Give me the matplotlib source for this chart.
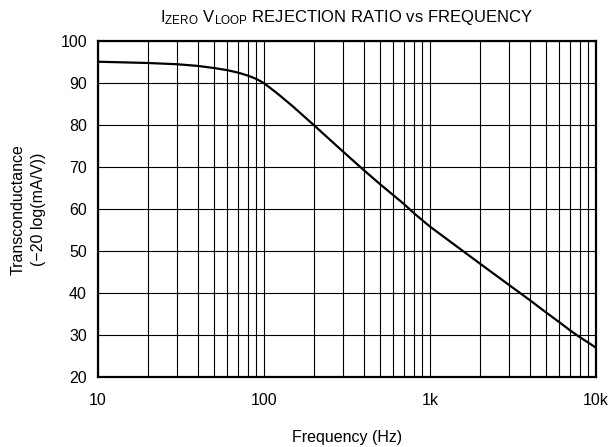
import numpy as np
import matplotlib.pyplot as plt
from matplotlib.ticker import FixedLocator, LogLocator, NullFormatter

plt.rcParams['font.family'] = ['Liberation Sans', 'DejaVu Sans']
plt.rcParams['mathtext.fontset'] = 'custom'
plt.rcParams['mathtext.rm'] = 'Liberation Sans'

# curve
freq = [10, 20, 30, 40, 50, 60, 70, 80, 90, 100, 120, 150, 200, 300, 400,
        500, 600, 700, 800, 900, 1000, 2000, 3000, 4000, 5000, 6000, 7000,
        8000, 9000, 10000]
gain = [95.1, 94.8, 94.5, 94.1, 93.6, 93.1, 92.5, 91.8, 91.0, 90.0, 87.6,
        84.4, 80.0, 73.7, 69.3, 66.0, 63.4, 61.2, 59.1, 57.4, 55.9, 47.1,
        42.0, 38.4, 35.5, 33.2, 31.2, 29.6, 28.3, 27.1]

x_ticks = [10, 100, 1000, 10000]
x_labels = ['10', '100', '1k', '10k']
y_ticks = np.arange(20, 101, 10)

fig = plt.figure(figsize=(6.13, 4.47), dpi=100)
ax = fig.add_axes([0.16, 0.1555, 0.812, 0.7525])

ax.semilogx(freq, gain, color='black', linewidth=1.6, zorder=3)

ax.set_xlim(10, 10000)
ax.set_ylim(20, 100)
ax.xaxis.set_major_locator(FixedLocator(x_ticks))
ax.set_xticklabels(x_labels)
ax.xaxis.set_minor_locator(LogLocator(base=10, subs=np.arange(2, 10)))
ax.xaxis.set_minor_formatter(NullFormatter())
ax.set_yticks(y_ticks)

ax.grid(which='major', color='black', linewidth=0.8)
ax.grid(which='minor', axis='x', color='black', linewidth=0.8)
ax.tick_params(which='both', length=0, labelsize=11.5)
ax.tick_params(axis='x', pad=11)
ax.tick_params(axis='y', pad=8)
for s in ax.spines.values():
    s.set_linewidth(1.6)

ax.set_xlabel('Frequency (Hz)', fontsize=11.5, labelpad=16)
ax.set_ylabel('Transconductance\n(\u221220 log(mA/V))', fontsize=11.5,
              labelpad=10, linespacing=1.45)
ax.set_title(r'$\mathregular{I_{ZERO}\ V_{LOOP}}$ REJECTION RATIO vs FREQUENCY',
             fontsize=12, pad=14)

plt.savefig('out.png', dpi=100)
